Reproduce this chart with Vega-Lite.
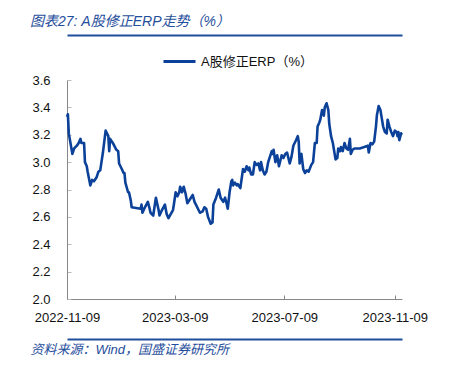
{
  "$schema": "https://vega.github.io/schema/vega-lite/v6.json",
  "width": 335,
  "height": 219,
  "autosize": {"type": "none"},
  "padding": {"left": 67, "top": 80, "right": 49, "bottom": 67},
  "background": "white",
  "config": {"view": {"stroke": null}, "font": "Liberation Sans"},
  "title": {
    "text": "图表27: A股修正ERP走势（%）",
    "anchor": "start",
    "dx": 0,
    "offset": 6,
    "fontSize": 14,
    "fontStyle": "italic",
    "fontWeight": "normal",
    "font": "Liberation Sans, Noto Sans CJK SC",
    "color": "#1F4E9C"
  },
  "data": {"values": [
    {"date": "2022-11-09", "v": 3.33}, {"date": "2022-11-10", "v": 3.35}, {"date": "2022-11-11", "v": 3.21},
    {"date": "2022-11-15", "v": 3.06}, {"date": "2022-11-17", "v": 3.10}, {"date": "2022-11-20", "v": 3.12},
    {"date": "2022-11-22", "v": 3.14}, {"date": "2022-11-24", "v": 3.17}, {"date": "2022-11-25", "v": 3.14},
    {"date": "2022-11-28", "v": 3.14}, {"date": "2022-11-29", "v": 3.00}, {"date": "2022-12-01", "v": 2.97},
    {"date": "2022-12-02", "v": 2.93}, {"date": "2022-12-05", "v": 2.83}, {"date": "2022-12-07", "v": 2.87},
    {"date": "2022-12-09", "v": 2.86}, {"date": "2022-12-12", "v": 2.89}, {"date": "2022-12-14", "v": 2.93},
    {"date": "2022-12-16", "v": 2.94}, {"date": "2022-12-19", "v": 3.07}, {"date": "2022-12-22", "v": 3.23},
    {"date": "2022-12-25", "v": 3.19}, {"date": "2022-12-26", "v": 3.08}, {"date": "2022-12-27", "v": 3.17},
    {"date": "2022-12-30", "v": 3.14}, {"date": "2023-01-03", "v": 3.09}, {"date": "2023-01-05", "v": 3.08},
    {"date": "2023-01-06", "v": 2.99}, {"date": "2023-01-09", "v": 2.95}, {"date": "2023-01-11", "v": 2.92},
    {"date": "2023-01-12", "v": 2.92}, {"date": "2023-01-13", "v": 2.85}, {"date": "2023-01-16", "v": 2.78},
    {"date": "2023-01-17", "v": 2.78}, {"date": "2023-01-19", "v": 2.72}, {"date": "2023-01-20", "v": 2.67},
    {"date": "2023-01-30", "v": 2.66}, {"date": "2023-01-31", "v": 2.69}, {"date": "2023-02-01", "v": 2.63},
    {"date": "2023-02-03", "v": 2.66}, {"date": "2023-02-07", "v": 2.71}, {"date": "2023-02-09", "v": 2.66},
    {"date": "2023-02-10", "v": 2.63}, {"date": "2023-02-13", "v": 2.61}, {"date": "2023-02-16", "v": 2.74},
    {"date": "2023-02-19", "v": 2.65}, {"date": "2023-02-20", "v": 2.61}, {"date": "2023-02-22", "v": 2.64},
    {"date": "2023-02-26", "v": 2.69}, {"date": "2023-02-28", "v": 2.62}, {"date": "2023-03-02", "v": 2.59},
    {"date": "2023-03-07", "v": 2.65}, {"date": "2023-03-08", "v": 2.69}, {"date": "2023-03-10", "v": 2.78},
    {"date": "2023-03-12", "v": 2.75}, {"date": "2023-03-14", "v": 2.78}, {"date": "2023-03-15", "v": 2.82},
    {"date": "2023-03-17", "v": 2.78}, {"date": "2023-03-19", "v": 2.82}, {"date": "2023-03-21", "v": 2.77},
    {"date": "2023-03-23", "v": 2.70}, {"date": "2023-03-27", "v": 2.74}, {"date": "2023-03-29", "v": 2.76},
    {"date": "2023-03-31", "v": 2.71}, {"date": "2023-04-03", "v": 2.67}, {"date": "2023-04-06", "v": 2.63},
    {"date": "2023-04-09", "v": 2.64}, {"date": "2023-04-11", "v": 2.67}, {"date": "2023-04-13", "v": 2.66},
    {"date": "2023-04-15", "v": 2.60}, {"date": "2023-04-18", "v": 2.55}, {"date": "2023-04-20", "v": 2.56},
    {"date": "2023-04-21", "v": 2.69}, {"date": "2023-04-24", "v": 2.74}, {"date": "2023-04-27", "v": 2.80},
    {"date": "2023-04-29", "v": 2.74}, {"date": "2023-05-02", "v": 2.71}, {"date": "2023-05-04", "v": 2.74},
    {"date": "2023-05-06", "v": 2.69}, {"date": "2023-05-07", "v": 2.66}, {"date": "2023-05-09", "v": 2.78},
    {"date": "2023-05-11", "v": 2.86}, {"date": "2023-05-12", "v": 2.87}, {"date": "2023-05-13", "v": 2.83},
    {"date": "2023-05-15", "v": 2.85}, {"date": "2023-05-17", "v": 2.83}, {"date": "2023-05-18", "v": 2.84},
    {"date": "2023-05-21", "v": 2.81}, {"date": "2023-05-24", "v": 2.95}, {"date": "2023-05-26", "v": 2.93},
    {"date": "2023-05-28", "v": 2.97}, {"date": "2023-05-30", "v": 2.94}, {"date": "2023-05-31", "v": 2.96},
    {"date": "2023-06-02", "v": 2.91}, {"date": "2023-06-04", "v": 2.91}, {"date": "2023-06-06", "v": 3.00},
    {"date": "2023-06-08", "v": 2.98}, {"date": "2023-06-10", "v": 2.99}, {"date": "2023-06-12", "v": 2.94},
    {"date": "2023-06-13", "v": 3.00}, {"date": "2023-06-15", "v": 2.94}, {"date": "2023-06-17", "v": 2.91},
    {"date": "2023-06-19", "v": 2.93}, {"date": "2023-06-21", "v": 3.00}, {"date": "2023-06-23", "v": 3.04},
    {"date": "2023-06-25", "v": 3.08}, {"date": "2023-06-26", "v": 3.06}, {"date": "2023-06-27", "v": 3.09},
    {"date": "2023-06-29", "v": 3.00}, {"date": "2023-07-01", "v": 3.05}, {"date": "2023-07-03", "v": 2.97},
    {"date": "2023-07-06", "v": 3.05}, {"date": "2023-07-08", "v": 3.03}, {"date": "2023-07-10", "v": 3.06},
    {"date": "2023-07-12", "v": 3.07}, {"date": "2023-07-15", "v": 2.99}, {"date": "2023-07-17", "v": 3.04},
    {"date": "2023-07-18", "v": 3.08}, {"date": "2023-07-19", "v": 3.12}, {"date": "2023-07-22", "v": 3.16},
    {"date": "2023-07-24", "v": 3.19}, {"date": "2023-07-25", "v": 3.15}, {"date": "2023-07-26", "v": 2.99},
    {"date": "2023-07-28", "v": 3.06}, {"date": "2023-07-30", "v": 2.95}, {"date": "2023-08-01", "v": 2.92},
    {"date": "2023-08-03", "v": 2.94}, {"date": "2023-08-05", "v": 2.93}, {"date": "2023-08-08", "v": 2.98},
    {"date": "2023-08-10", "v": 3.00}, {"date": "2023-08-12", "v": 3.14}, {"date": "2023-08-14", "v": 3.14},
    {"date": "2023-08-15", "v": 3.26}, {"date": "2023-08-17", "v": 3.29}, {"date": "2023-08-18", "v": 3.31},
    {"date": "2023-08-20", "v": 3.38}, {"date": "2023-08-22", "v": 3.34}, {"date": "2023-08-23", "v": 3.40},
    {"date": "2023-08-25", "v": 3.43}, {"date": "2023-08-27", "v": 3.38}, {"date": "2023-08-28", "v": 3.28},
    {"date": "2023-08-30", "v": 3.19}, {"date": "2023-09-01", "v": 3.14}, {"date": "2023-09-03", "v": 3.06},
    {"date": "2023-09-04", "v": 3.02}, {"date": "2023-09-06", "v": 3.03}, {"date": "2023-09-07", "v": 3.10},
    {"date": "2023-09-09", "v": 3.08}, {"date": "2023-09-10", "v": 3.11}, {"date": "2023-09-12", "v": 3.08},
    {"date": "2023-09-14", "v": 3.14}, {"date": "2023-09-16", "v": 3.10}, {"date": "2023-09-18", "v": 3.09},
    {"date": "2023-09-20", "v": 3.17}, {"date": "2023-09-21", "v": 3.06}, {"date": "2023-09-23", "v": 3.09},
    {"date": "2023-09-25", "v": 3.10}, {"date": "2023-10-01", "v": 3.10}, {"date": "2023-10-06", "v": 3.11},
    {"date": "2023-10-10", "v": 3.12}, {"date": "2023-10-11", "v": 3.07}, {"date": "2023-10-13", "v": 3.14},
    {"date": "2023-10-15", "v": 3.13}, {"date": "2023-10-17", "v": 3.15}, {"date": "2023-10-19", "v": 3.26},
    {"date": "2023-10-20", "v": 3.34}, {"date": "2023-10-22", "v": 3.41}, {"date": "2023-10-24", "v": 3.38},
    {"date": "2023-10-25", "v": 3.34}, {"date": "2023-10-27", "v": 3.26}, {"date": "2023-10-29", "v": 3.22},
    {"date": "2023-10-31", "v": 3.21}, {"date": "2023-11-01", "v": 3.31}, {"date": "2023-11-03", "v": 3.26},
    {"date": "2023-11-05", "v": 3.22}, {"date": "2023-11-07", "v": 3.19}, {"date": "2023-11-09", "v": 3.23},
    {"date": "2023-11-11", "v": 3.22}, {"date": "2023-11-12", "v": 3.19}, {"date": "2023-11-13", "v": 3.22},
    {"date": "2023-11-14", "v": 3.16}, {"date": "2023-11-16", "v": 3.21}, {"date": "2023-11-17", "v": 3.20}
  ]},
  "layer": [
    {
      "mark": {"type": "line", "strokeWidth": 2.6, "strokeJoin": "round", "clip": false},
      "encoding": {
        "x": {
          "field": "date", "type": "temporal",
          "scale": {"type": "utc", "domain": [{"year": 2022, "month": 11, "date": 9, "utc": true}, {"year": 2023, "month": 11, "date": 17, "utc": true}]},
          "axis": {
            "orient": "bottom",
            "title": null,
            "values": [
              {"year": 2022, "month": 11, "date": 9, "utc": true},
              {"year": 2023, "month": 3, "date": 9, "utc": true},
              {"year": 2023, "month": 7, "date": 9, "utc": true},
              {"year": 2023, "month": 11, "date": 9, "utc": true}
            ],
            "format": "%Y-%m-%d",
            "grid": false,
            "domainColor": "#888888",
            "tickColor": "#888888",
            "tickSize": -4,
            "labelPadding": 16,
            "labelFontSize": 13,
            "labelColor": "#111111",
            "labelFlush": false,
            "labelOverlap": false
          }
        },
        "y": {
          "field": "v", "type": "quantitative",
          "scale": {"domain": [2.0, 3.6], "nice": false, "zero": false},
          "axis": {
            "orient": "left",
            "title": null,
            "values": [2.0, 2.2, 2.4, 2.6, 2.8, 3.0, 3.2, 3.4, 3.6],
            "format": ".1f",
            "grid": false,
            "domainColor": "#888888",
            "tickColor": "#bbbbbb",
            "tickSize": -4,
            "labelPadding": 21,
            "labelFontSize": 13,
            "labelColor": "#111111",
            "labelOverlap": false,
            "labelFlush": false
          }
        },
        "color": {
          "datum": "A股修正ERP（%）",
          "scale": {"range": ["#0B4199"]},
          "legend": {
            "orient": "none",
            "legendX": 95,
            "legendY": -36,
            "title": null,
            "symbolType": "stroke",
            "symbolSize": 1024,
            "symbolStrokeWidth": 3,
            "labelFontSize": 13,
            "labelFont": "Liberation Sans, Noto Sans CJK SC",
            "labelColor": "#111111"
          }
        }
      }
    },
    {
      "mark": {"type": "line", "opacity": 0},
      "encoding": {
        "x": {
          "field": "date", "type": "temporal",
          "axis": {"orient": "top", "offset": 45, "title": null, "labels": false, "ticks": false, "grid": false, "domainColor": "#1F4E9C", "domainWidth": 2}
        },
        "y": {"field": "v", "type": "quantitative", "axis": null}
      }
    },
    {
      "mark": {"type": "line", "opacity": 0},
      "encoding": {
        "x": {
          "field": "date", "type": "temporal",
          "axis": {
            "orient": "bottom", "offset": 40, "labels": false, "ticks": false, "grid": false,
            "domainColor": "#1F4E9C", "domainWidth": 2,
            "title": "资料来源：Wind，国盛证券研究所",
            "titleAnchor": "start", "titleAlign": "left", "titleX": -37, "titleY": 10,
            "titleBaseline": "middle",
            "titleFontSize": 13, "titleFontStyle": "italic", "titleFontWeight": "normal",
            "titleFont": "Liberation Sans, Noto Sans CJK SC", "titleColor": "#1F4E9C"
          }
        },
        "y": {"field": "v", "type": "quantitative", "axis": null}
      }
    }
  ],
  "resolve": {"axis": {"x": "independent", "y": "independent"}}
}
